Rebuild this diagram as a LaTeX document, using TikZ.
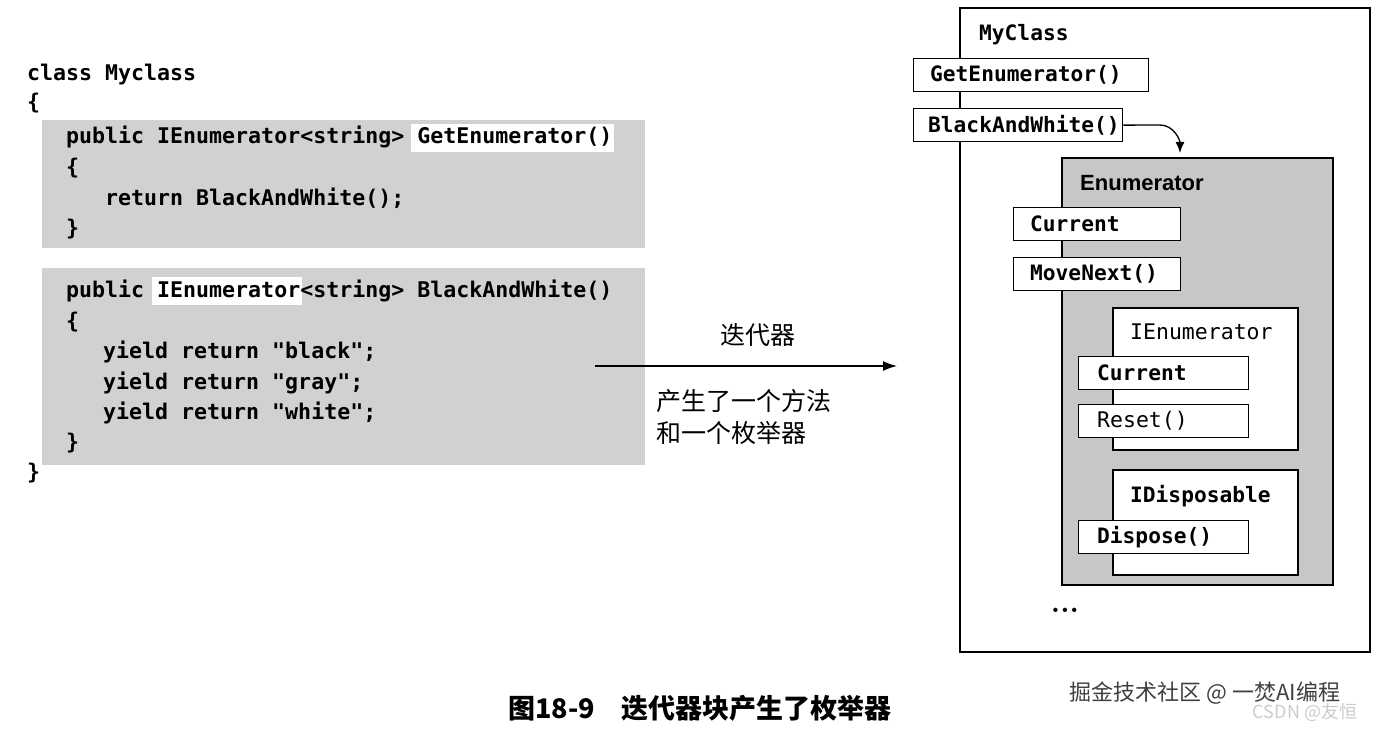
\documentclass[tikz,border=0pt]{standalone}
\usepackage{fontspec}
\usetikzlibrary{arrows.meta}
\setmonofont{DejaVu Sans Mono}
\setsansfont{Liberation Sans}
\newfontfamily\cjk{Noto Sans CJK SC}
\begin{document}
\begin{tikzpicture}[x=1pt,y=-1pt,
  code/.style={anchor=west,inner sep=0pt,font=\ttfamily\bfseries\fontsize{21.6}{21.6}\selectfont},
  mem/.style={draw,line width=1.3pt,fill=white,minimum height=33pt,anchor=north west,inner sep=0pt},
  memt/.style={anchor=west,inner sep=0pt,font=\ttfamily\bfseries\fontsize{21.2}{21.2}\selectfont},
  gbox/.style={fill=black!18},
  cn/.style={font=\cjk\fontsize{25}{25}\selectfont,inner sep=0pt}]
\useasboundingbox (0,0) rectangle (1393,730);
\fill[white] (0,0) rectangle (1393,730);
% left code
\fill[gbox] (42,120) rectangle (645,248);
\fill[gbox] (42,268) rectangle (645,465);
\fill[white] (411,124) rectangle (614,152);
\fill[white] (152,277) rectangle (302,305);
\node[code] (c1) at (27,75) {class Myclass};
\node[code] (c2) at (27,103) {\{};
\node[code] (c3) at (66,137) {public IEnumerator<string> GetEnumerator()};
\node[code] (c4) at (66,168) {\{};
\node[code] (c5) at (105,198) {return BlackAndWhite();};
\node[code] (c6) at (66,229) {\}};
\node[code] (c7) at (66,291) {public IEnumerator<string> BlackAndWhite()};
\node[code] (c8) at (66,322) {\{};
\node[code] (c9) at (103,352) {yield return "black";};
\node[code] (c10) at (103,383) {yield return "gray";};
\node[code] (c11) at (103,413) {yield return "white";};
\node[code] (c12) at (66,443) {\}};
\node[code] (c13) at (27,473) {\}};
% arrow
\coordinate (a1) at (595,366);
\coordinate (a2) at (897,366);
\draw[line width=1.5pt,-{Latex[length=14pt,width=10pt]}] (a1) -- (a2);
\node[cn] (t1) at (758,335) {迭代器};
\node[cn,anchor=west] (t2) at (656,401) {产生了一个方法};
\node[cn,anchor=west] (t3) at (656,433) {和一个枚举器};
% right
\draw[line width=1.3pt] (960,8) rectangle (1370,652);
\node[memt] (mc) at (979,35) {MyClass};
\node[mem,minimum width=235pt] (ge) at (913,58) {};
\node[memt] at (930,75) {GetEnumerator()};
\node[mem,minimum width=209pt] (bw) at (913,108) {};
\node[memt] at (928,125) {BlackAndWhite()};
\draw[line width=1.3pt,fill=black!22] (1062,158) rectangle (1333,585);
\node[anchor=west,inner sep=0pt,font=\sffamily\bfseries\fontsize{22}{22}\selectfont] (en) at (1080,183) {Enumerator};
\draw[line width=1.3pt,-{Latex[length=11pt,width=9pt]}] (bw.east) -- (1160,125) to[out=0,in=90] (1180,153);
\node[mem,minimum width=167pt] (cu) at (1013,207) {};
\node[memt] at (1030,224) {Current};
\node[mem,minimum width=167pt] (mn) at (1013,257) {};
\node[memt] at (1030,274) {MoveNext()};
\draw[line width=1.3pt,fill=white] (1113,308) rectangle (1298,450);
\node[memt,font=\ttfamily\fontsize{21.5}{21.5}\selectfont] (ie) at (1130,332) {IEnumerator};
\node[mem,minimum width=170pt] (cu2) at (1078,356) {};
\node[memt] at (1097,373) {Current};
\node[mem,minimum width=170pt] (rs) at (1078,404) {};
\node[memt,font=\ttfamily\fontsize{21.5}{21.5}\selectfont] at (1097,421) {Reset()};
\draw[line width=1.3pt,fill=white] (1113,470) rectangle (1298,575);
\node[memt] (id) at (1130,496) {IDisposable};
\node[mem,minimum width=170pt] (dp) at (1078,520) {};
\node[memt] at (1097,537) {Dispose()};
\node[inner sep=0pt,font=\bfseries\fontsize{30}{30}\selectfont] (dots) at (1065,610) {...};
% caption
\node[cn,font=\cjk\bfseries\fontsize{27}{27}\selectfont] (cap) at (700,708) {图18-9\quad 迭代器块产生了枚举器};
\node[cn,font=\cjk\fontsize{22}{22}\selectfont,text=black!75] (wm) at (1205,693) {掘金技术社区 @ 一焚AI编程};
\node[cn,font=\cjk\fontsize{18}{18}\selectfont,text=black!20] (wm2) at (1305,712) {CSDN @友恒};
\end{tikzpicture}
\end{document}
